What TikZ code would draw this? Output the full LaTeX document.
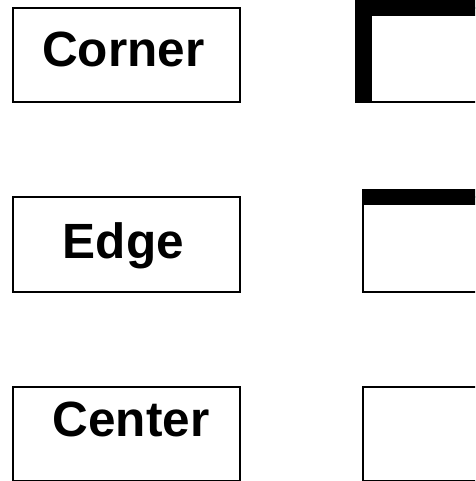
\documentclass[tikz,border=0pt]{standalone}
\usepackage{fontspec}
\setmainfont{Liberation Sans}
\begin{document}
\begin{tikzpicture}[x=1pt,y=-1pt,
  labelbox/.style={draw=black,line width=2pt},
  thinbox/.style={draw=black,line width=2pt},
  thickbar/.style={fill=black},
  lbl/.style={anchor=base,inner sep=0pt,font=\bfseries\fontsize{49.5}{50}\selectfont}]
\useasboundingbox (0,0) rectangle (475,481);
\clip (0,0) rectangle (475,481);
% left label boxes
\draw[labelbox] (12.7,8.3) rectangle (240,102);
\draw[labelbox] (12.7,196.7) rectangle (240,292);
\draw[labelbox] (12.7,386.7) rectangle (240,481.3);
\node[lbl] (corner) at (123.3,66.7) {Corner};
\node[lbl] (edge) at (123.3,258.3) {Edge};
\node[lbl] (center) at (131,436.7) {Center};
% right boxes
\draw[thinbox] (363,8) rectangle (500,102);
\fill[thickbar] (355,0) rectangle (500,16);
\fill[thickbar] (355,0) rectangle (371.5,103);
\draw[thinbox] (363,197) rectangle (500,292);
\fill[thickbar] (362,189.3) rectangle (500,205);
\draw[thinbox] (363,386.7) rectangle (500,481.3);
\end{tikzpicture}
\end{document}
